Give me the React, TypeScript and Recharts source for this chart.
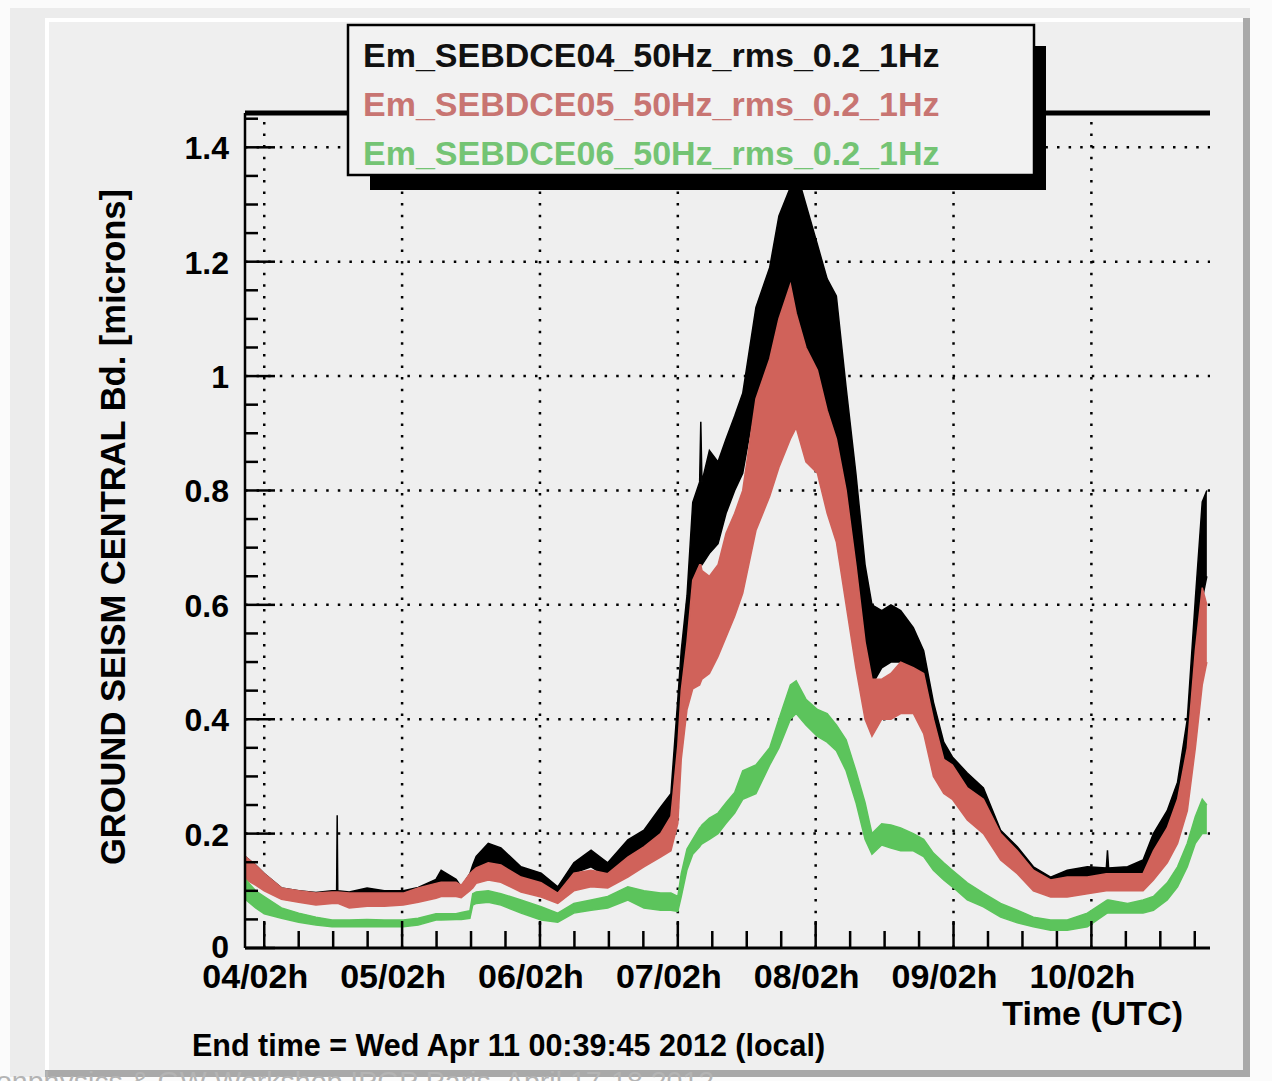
import React from 'react';
import { ComposedChart, Area, XAxis, YAxis, ReferenceLine } from 'recharts';

const W = 1272;
const H = 1081;
const FONT = "'Liberation Sans', Arial, Helvetica, sans-serif";

// time in hours since 04 Apr 00h UTC
const hours = [
  -1.3, 0.5, 2, 5, 8, 11,
  13.8, 14.6, 14.7, 14.8, 16.8, 19.9,
  22.9, 26.2, 28.8, 31.9, 32.8, 35.4,
  36.3, 37.8, 38.3, 38.9, 41, 43.2,
  46.7, 50.2, 53.1, 55.9, 58.9, 61.8,
  65.3, 68.1, 71, 72.8, 74, 74.6,
  75.6, 76.6, 77.8, 78, 78.2, 79.5,
  81, 82.4, 83.9, 85.3, 87.6, 90,
  91.6, 93.6, 94.6, 96.3, 98.3, 100,
  101.6, 103.3, 105, 106.6, 107.8, 109.5,
  111.1, 112.8, 115, 116.8, 118.5, 120.3,
  121.8, 124.4, 127.2, 130.2, 133.1, 135.9,
  138.9, 141.8, 145.3, 148.6, 148.8, 149,
  152.3, 155, 156.8, 159.2, 161, 162.7,
  164.1, 165.3, 166.1,
];

// Em_SEBDCE04 (black) band
const se04Lo = [
  0.13, 0.12, 0.11, 0.09, 0.085, 0.08,
  0.085, 0.085, 0.085, 0.085, 0.085, 0.09,
  0.09, 0.09, 0.09, 0.1, 0.1, 0.1,
  0.1, 0.11, 0.12, 0.13, 0.15, 0.142,
  0.124, 0.107, 0.096, 0.131, 0.142, 0.124,
  0.154, 0.171, 0.2, 0.21, 0.31, 0.4,
  0.49, 0.616, 0.67, 0.67, 0.67, 0.69,
  0.707, 0.76, 0.8, 0.83, 0.96, 1.03,
  1.1, 1.12, 1.1, 1.05, 1.01, 0.94,
  0.89, 0.78, 0.62, 0.5, 0.46, 0.49,
  0.5, 0.5, 0.49, 0.43, 0.375, 0.32,
  0.3, 0.27, 0.246, 0.183, 0.154, 0.124,
  0.114, 0.119, 0.119, 0.12, 0.12, 0.12,
  0.119, 0.119, 0.142, 0.183, 0.224, 0.317,
  0.456, 0.61, 0.65,
];
const se04Hi = [
  0.16, 0.145, 0.13, 0.105, 0.1, 0.097,
  0.1, 0.1, 0.232, 0.1, 0.098, 0.105,
  0.1, 0.1, 0.106, 0.12, 0.136, 0.12,
  0.107, 0.13, 0.145, 0.16, 0.183, 0.175,
  0.142, 0.131, 0.107, 0.149, 0.171, 0.149,
  0.189, 0.206, 0.246, 0.27, 0.435, 0.52,
  0.616, 0.779, 0.815, 0.92, 0.815, 0.87,
  0.85, 0.89, 0.93, 0.97, 1.12, 1.19,
  1.28, 1.33, 1.36, 1.3, 1.23, 1.17,
  1.14, 0.98, 0.83, 0.67, 0.6, 0.59,
  0.6, 0.59, 0.56, 0.52, 0.43, 0.36,
  0.334, 0.306, 0.28, 0.206, 0.177, 0.142,
  0.124, 0.136, 0.142, 0.14, 0.171, 0.14,
  0.142, 0.154, 0.2, 0.24, 0.29, 0.4,
  0.61, 0.78, 0.8,
];

// Em_SEBDCE05 (red) band
const se05Lo = [
  0.12, 0.11, 0.1, 0.085, 0.08, 0.075,
  0.078, 0.078, 0.078, 0.078, 0.07, 0.073,
  0.073, 0.075, 0.08, 0.087, 0.09, 0.09,
  0.088, 0.1, 0.105, 0.113, 0.119, 0.115,
  0.098, 0.089, 0.078, 0.1, 0.107, 0.105,
  0.124, 0.142, 0.159, 0.17, 0.218, 0.33,
  0.417, 0.453, 0.46, 0.465, 0.47, 0.48,
  0.51, 0.544, 0.58, 0.62, 0.73, 0.79,
  0.84, 0.89, 0.91, 0.85, 0.83, 0.76,
  0.71, 0.6, 0.49, 0.4, 0.37, 0.4,
  0.4, 0.41, 0.41, 0.375, 0.3, 0.27,
  0.26, 0.224, 0.2, 0.154, 0.13, 0.1,
  0.089, 0.089, 0.095, 0.1, 0.1, 0.1,
  0.1, 0.1, 0.119, 0.149, 0.183, 0.24,
  0.35, 0.46, 0.5,
];
const se05Hi = [
  0.16, 0.145, 0.13, 0.105, 0.1, 0.096,
  0.098, 0.098, 0.098, 0.098, 0.096, 0.096,
  0.096, 0.096, 0.105, 0.113, 0.115, 0.115,
  0.11, 0.13, 0.135, 0.14, 0.149, 0.145,
  0.124, 0.114, 0.096, 0.131, 0.136, 0.13,
  0.159, 0.177, 0.2, 0.23, 0.354, 0.45,
  0.535, 0.643, 0.67, 0.67, 0.66, 0.65,
  0.67, 0.725, 0.76, 0.8, 0.96, 1.03,
  1.1, 1.16, 1.11, 1.05, 1.01, 0.94,
  0.89, 0.8, 0.67, 0.535, 0.47, 0.47,
  0.48, 0.5, 0.49, 0.48, 0.4, 0.33,
  0.32, 0.28, 0.26, 0.2, 0.17, 0.136,
  0.119, 0.124, 0.124, 0.13, 0.13, 0.13,
  0.13, 0.13, 0.17, 0.21, 0.26, 0.35,
  0.52, 0.63, 0.6,
];

// Em_SEBDCE06 (green) band
const se06Lo = [
  0.085, 0.07, 0.06, 0.052, 0.045, 0.04,
  0.037, 0.037, 0.037, 0.037, 0.037, 0.037,
  0.037, 0.037, 0.04, 0.049, 0.049, 0.05,
  0.05, 0.052, 0.075, 0.078, 0.08, 0.075,
  0.061, 0.049, 0.045, 0.061, 0.066, 0.07,
  0.084, 0.07, 0.066, 0.066, 0.064, 0.09,
  0.137, 0.164, 0.177, 0.18, 0.182, 0.19,
  0.2, 0.218, 0.236, 0.26, 0.27, 0.32,
  0.35, 0.4, 0.41, 0.39, 0.37, 0.36,
  0.345, 0.31, 0.255, 0.19, 0.164, 0.18,
  0.175, 0.17, 0.17, 0.16, 0.136, 0.119,
  0.107, 0.084, 0.072, 0.054, 0.044, 0.037,
  0.031, 0.031, 0.037, 0.06, 0.061, 0.061,
  0.061, 0.061, 0.066, 0.084, 0.107, 0.142,
  0.183, 0.2, 0.2,
];
const se06Hi = [
  0.12, 0.1, 0.09, 0.07, 0.061, 0.054,
  0.049, 0.049, 0.049, 0.049, 0.049, 0.05,
  0.049, 0.049, 0.052, 0.06, 0.06, 0.06,
  0.062, 0.065, 0.095, 0.098, 0.1, 0.095,
  0.084, 0.072, 0.061, 0.078, 0.084, 0.09,
  0.107, 0.1, 0.096, 0.096, 0.09, 0.13,
  0.173, 0.19, 0.21, 0.212, 0.215, 0.227,
  0.236, 0.254, 0.272, 0.31, 0.32, 0.35,
  0.4, 0.46, 0.467, 0.435, 0.417, 0.41,
  0.39, 0.364, 0.31, 0.254, 0.2, 0.217,
  0.215, 0.21, 0.2, 0.19, 0.166, 0.149,
  0.136, 0.114, 0.096, 0.078, 0.066, 0.054,
  0.049, 0.049, 0.061, 0.083, 0.084, 0.084,
  0.078, 0.084, 0.09, 0.114, 0.142, 0.183,
  0.23, 0.26, 0.25,
];

const seriesNames = [
  'Em_SEBDCE04_50Hz_rms_0.2_1Hz',
  'Em_SEBDCE05_50Hz_rms_0.2_1Hz',
  'Em_SEBDCE06_50Hz_rms_0.2_1Hz',
];
const seriesColors = ['#000000', '#d0625a', '#5cc45c'];
const legendColors = ['#111111', '#c87572', '#74c474'];

const dayTicks = [2, 26, 50, 74, 98, 122, 146];
const dayLabels = ['04/02h', '05/02h', '06/02h', '07/02h', '08/02h', '09/02h', '10/02h'];
const xTicks = [2, 8, 14, 20, 26, 32, 38, 44, 50, 56, 62, 68, 74, 80, 86, 92, 98, 104, 110, 116, 122, 128, 134, 140, 146, 152, 158, 164];
const yTicks = [0, 0.05, 0.1, 0.15, 0.2, 0.25, 0.3, 0.35, 0.4, 0.45, 0.5, 0.55, 0.6, 0.65, 0.7, 0.75, 0.8, 0.85, 0.9, 0.95, 1, 1.05, 1.1, 1.15, 1.2, 1.25, 1.3, 1.35, 1.4, 1.45];
const yGrid = [0.2, 0.4, 0.6, 0.8, 1, 1.2, 1.4];

const X_DOMAIN = [-1.35, 166.65];
const Y_DOMAIN = [0, 1.46];

const data = hours.map((h, i) => ({
  t: h,
  s04: [se04Lo[i], se04Hi[i]],
  s05: [se05Lo[i], se05Hi[i]],
  s06: [se06Lo[i], se06Hi[i]],
}));

const XTick = (props: any) => {
  const { x, y, payload } = props;
  const idx = dayTicks.indexOf(payload.value);
  const major = idx >= 0;
  return (
    <g>
      <line x1={x} x2={x} y1={y} y2={y - (major ? 27 : 17)} stroke="#000" strokeWidth={2.5} />
      {major && (
        <text x={x - 9} y={y + 40} textAnchor="middle" fontFamily={FONT} fontWeight="bold" fontSize={34} fill="#000">
          {dayLabels[idx]}
        </text>
      )}
    </g>
  );
};

const YTick = (props: any) => {
  const { x, y, payload } = props;
  const v = payload.value;
  const major = Math.abs(v * 5 - Math.round(v * 5)) < 1e-6;
  return (
    <g>
      <line x1={x} x2={x + (major ? 30 : 13)} y1={y} y2={y} stroke="#000" strokeWidth={2.5} />
      {major && (
        <text x={x - 16} y={y + (v === 0 ? 10 : 12)} textAnchor="end" fontFamily={FONT} fontWeight="bold" fontSize={32} fill="#000">
          {String(Math.round(v * 10) / 10)}
        </text>
      )}
    </g>
  );
};

const dotted = { stroke: '#000', strokeWidth: 2.5, strokeDasharray: '2.5 9.1' };

export default function App() {
  return (
    <div style={{ position: 'absolute', left: 0, top: 0, width: W, height: H, overflow: 'hidden', background: '#fbfbfb' }}>
      {/* canvas background with bevel */}
      <svg width={W} height={H} style={{ position: 'absolute', left: 0, top: 0 }}>
        <rect x={10} y={8} width={1240} height={1069} fill="#ececec" />
        <rect x={48} y={20} width={1196} height={1050} fill="#efefef" />
        <rect x={45} y={18} width={4} height={1054} fill="#ffffff" />
        <rect x={45} y={18} width={1200} height={4} fill="#ffffff" />
        <rect x={1243} y={18} width={7} height={1059} fill="#a9a9a9" />
        <rect x={45} y={1070} width={1205} height={7} fill="#a9a9a9" />
      </svg>

      <div style={{ position: 'absolute', left: 0, top: 0 }}>
        <ComposedChart
          width={W}
          height={H}
          data={data}
          margin={{ top: 113, right: 62, bottom: 93, left: 185 }}
        >
          <XAxis
            dataKey="t"
            type="number"
            domain={X_DOMAIN}
            allowDataOverflow
            ticks={xTicks}
            interval={0}
            height={40}
            tickSize={0}
            tickMargin={0}
            tickLine={false}
            tick={<XTick />}
            axisLine={{ stroke: '#000', strokeWidth: 3 }}
          />
          <YAxis
            type="number"
            domain={Y_DOMAIN}
            allowDataOverflow
            ticks={yTicks}
            interval={0}
            width={60}
            tickSize={0}
            tickMargin={0}
            tickLine={false}
            tick={<YTick />}
            axisLine={{ stroke: '#000', strokeWidth: 2.5 }}
          />
          {dayTicks.map((d) => (
            <ReferenceLine key={'vx' + d} x={d} {...dotted} zIndex={-50} />
          ))}
          {yGrid.map((v) => (
            <ReferenceLine key={'hy' + v} y={v} {...dotted} zIndex={-50} />
          ))}
          <ReferenceLine y={Y_DOMAIN[1]} stroke="#000" strokeWidth={5} />
          <Area
            type="linear"
            dataKey="s04"
            stroke={seriesColors[0]}
            strokeWidth={1.5}
            fill={seriesColors[0]}
            fillOpacity={1}
            dot={false}
            activeDot={false}
            isAnimationActive={false}
          />
          <Area
            type="linear"
            dataKey="s05"
            stroke={seriesColors[1]}
            strokeWidth={1.5}
            fill={seriesColors[1]}
            fillOpacity={1}
            dot={false}
            activeDot={false}
            isAnimationActive={false}
          />
          <Area
            type="linear"
            dataKey="s06"
            stroke={seriesColors[2]}
            strokeWidth={1.5}
            fill={seriesColors[2]}
            fillOpacity={1}
            dot={false}
            activeDot={false}
            isAnimationActive={false}
          />
        </ComposedChart>
      </div>

      {/* legend, titles and footer text */}
      <svg width={W} height={H} style={{ position: 'absolute', left: 0, top: 0, pointerEvents: 'none' }}>
        <rect x={370} y={46} width={676} height={144} fill="#000" />
        <rect x={348} y={25} width={686} height={150} fill="#f2f2f2" stroke="#000" strokeWidth={2.5} />
        {seriesNames.map((name, i) => (
          <text
            key={name}
            x={363}
            y={67 + i * 49}
            fontFamily={FONT}
            fontWeight="bold"
            fontSize={34}
            fill={legendColors[i]}
          >
            {name}
          </text>
        ))}
        <text
          transform="translate(125, 527) rotate(-90)"
          textAnchor="middle"
          fontFamily={FONT}
          fontWeight="bold"
          fontSize={34.5}
          fill="#000"
        >
          GROUND SEISM CENTRAL Bd. [microns]
        </text>
        <text x={1183} y={1025} textAnchor="end" fontFamily={FONT} fontWeight="bold" fontSize={34} fill="#000">
          Time (UTC)
        </text>
        <text x={192} y={1056} fontFamily={FONT} fontWeight="bold" fontSize={30.5} fill="#000">
          End time = Wed Apr 11 00:39:45 2012 (local)
        </text>
        <text x={-4} y={1091} fontFamily={FONT} fontSize={28.5} fill="#b4b4b4">
          onphysics &amp; GW Workshop IPGP Paris, April 17-18 2012
        </text>
      </svg>
    </div>
  );
}
